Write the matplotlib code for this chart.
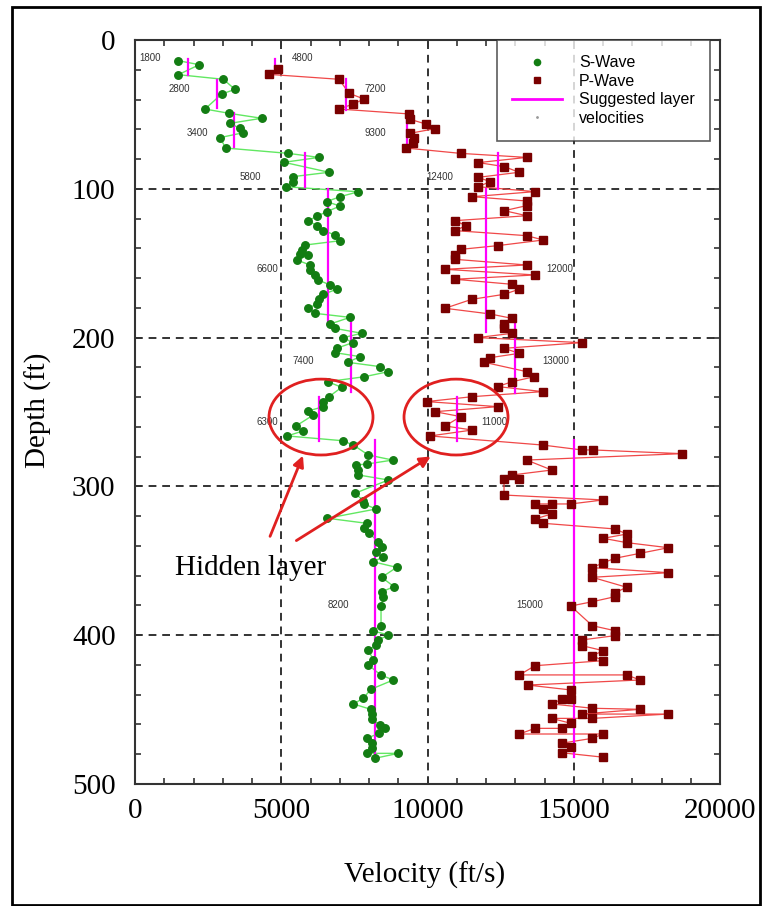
import matplotlib
matplotlib.use("Agg")
import matplotlib.pyplot as plt
from matplotlib.lines import Line2D
from matplotlib.patches import Ellipse, Rectangle
from matplotlib.ticker import MultipleLocator

# ---------------- data ----------------
s_vel = [1481, 2199, 1481, 3020, 3419, 2963, 2393, 3225, 4331, 3248, 3590, 3704, 2906, 3100,
         5243, 6291, 5094, 6632, 5413, 5390, 5163,
         7636, 7009, 6553, 7009, 6553, 6235, 5928, 6212, 6440, 6838, 7009, 5812, 5698, 5641,
         5928, 5527, 5983, 5983, 6154, 6269, 6667, 6895, 6440, 6303, 6212, 5928, 6154, 7351,
         6667, 6838, 7750, 7123, 7441, 6895, 6838, 7693, 7271, 8376, 8661, 7841, 6587, 7066,
         6633, 6440, 6440, 5928, 6098, 5504, 5732, 5208, 7099, 7464, 7977, 8810, 7920, 7555,
         7636, 7636, 8661, 7522, 7807, 7830, 8240, 6576, 7920, 7830, 8001, 8320, 8434, 8240,
         8468, 8126, 8947, 8434, 8855, 8434, 8490, 8411, 8411, 8126, 8661, 8320, 8240, 7977,
         8149, 7977, 8399, 8832, 8058, 7807, 7464, 8058, 8092, 8092, 8376, 8548, 8354, 7920,
         8092, 8092, 7920, 9003, 8206]
s_depth = [13.9, 16.6, 23.3, 26.4, 33.2, 36.3, 46.4, 49.3, 52.6, 56.0, 59.4, 62.3, 65.6, 72.6,
           76.2, 78.9, 82.2, 88.9, 91.8, 95.2, 98.6,
           102.0, 105.3, 108.6, 111.6, 115.4, 118.3, 121.4, 124.8, 128.1, 131.0, 134.9, 137.8, 141.1, 144.0,
           144.5, 147.8, 151.2, 154.6, 157.9, 161.3, 164.6, 167.5, 170.9, 174.3, 177.4, 180.3, 183.7, 186.4,
           190.9, 193.8, 197.1, 200.0, 203.4, 207.2, 210.1, 212.8, 216.6, 219.5, 222.9, 226.3, 229.6, 233.4,
           239.7, 243.0, 246.4, 249.3, 252.0, 259.4, 262.8, 266.1, 269.3, 272.2, 278.9, 282.3, 285.0, 285.6,
           289.0, 292.3, 295.7, 304.6, 309.6, 311.8, 315.2, 321.4, 324.8, 328.2, 331.5, 337.1, 340.5, 343.9,
           347.7, 350.6, 354.4, 361.1, 367.4, 370.8, 374.6, 380.4, 393.6, 397.0, 399.9, 403.2, 406.6, 410.0,
           416.7, 420.0, 426.7, 430.1, 436.4, 442.4, 446.2, 449.8, 453.0, 456.5, 460.3, 462.6, 465.9, 469.3,
           472.6, 476.0, 479.4, 479.4, 482.7]

p_vel = [4900, 4582, 6975, 7317, 7830, 7464, 6975, 9379, 9402, 9949, 10257, 9402, 9539, 9516, 9265,
         11135, 13391, 11737, 12627, 13129, 11737, 12137, 11737, 13675, 11532, 13391, 13391, 12627,
         13391, 10941, 11317, 10941, 13391, 13960, 12399, 11135, 10941, 10941, 13391, 10599, 13675,
         10941, 12901, 13129, 12627, 11509, 10599,
         12137, 12901, 12627, 12627, 12901, 11714, 15271, 12627, 13129, 12137, 11942, 13391, 13652,
         12901, 12399, 13937, 11532, 9972, 12399, 10257, 11135, 10599, 11532, 10086,
         13937, 15271, 15647, 18700, 13391, 14247, 12900, 13140, 12616, 12616,
         16012, 14897, 14247, 13676, 13960, 14247, 13676, 13960, 16412, 16811, 16012, 16811, 18234,
         17266, 16412, 16012, 15635, 18234, 15635, 16811, 16412, 16412, 15635, 14897, 15635, 16412,
         16412, 15271, 15271, 16012, 15635, 16012, 13676, 13140, 16811, 17266, 13425, 14897, 14897,
         14589, 14247, 15635, 17266, 15271, 18234, 15635, 14247, 14897, 14589, 13676, 13140, 16012,
         15635, 14589, 14897, 14589, 16012]
p_depth = [19.7, 23.1, 26.4, 35.8, 39.7, 43.0, 46.4, 49.7, 53.3, 56.5, 59.6, 62.7, 66.1, 69.0, 72.6,
           76.2, 78.9, 82.4, 85.1, 88.9, 92.3, 95.2, 98.6, 101.9, 105.3, 108.2, 111.3, 114.7,
           118.1, 121.4, 124.8, 128.1, 131.5, 134.4, 138.2, 140.7, 144.5, 147.4, 151.2, 154.1, 157.9,
           160.8, 164.2, 167.5, 170.9, 174.3, 180.3,
           184.1, 187.1, 190.9, 193.8, 197.1, 200.0, 203.4, 207.2, 210.6, 213.5, 216.6, 222.9, 226.3,
           229.6, 232.9, 236.3, 239.7, 243.0, 246.4, 249.8, 253.1, 259.4, 262.1, 266.1,
           272.2, 275.5, 275.5, 278.0, 282.3, 289.0, 292.3, 295.2, 295.2, 305.8,
           309.1, 311.8, 311.8, 311.8, 315.4, 318.5, 321.9, 324.8, 328.6, 332.0, 334.9, 337.8, 341.2,
           345.0, 348.3, 351.3, 354.6, 358.0, 361.1, 367.8, 371.4, 374.1, 377.5, 380.4, 393.6, 397.0,
           400.3, 403.2, 407.0, 410.4, 413.8, 417.1, 420.5, 426.7, 426.7, 430.1, 433.5, 436.8, 443.0,
           443.0, 446.2, 449.1, 449.8, 453.0, 453.0, 455.9, 455.9, 459.2, 462.6, 462.6, 466.4, 466.4,
           469.3, 472.6, 475.3, 479.0, 482.0]

# suggested layer velocities: value, top depth, bottom depth
s_layer_vel = [1800, 2800, 3400, 5800, 6600, 7400, 6300, 8200]
s_layer_top = [13, 27, 49, 76, 100, 187, 240, 269]
s_layer_bot = [23.5, 46, 72, 99, 190, 236.5, 269.5, 482]
p_layer_vel = [4800, 7200, 9300, 12400, 12000, 13000, 11000, 15000]
p_layer_top = [13, 26, 49, 76, 100, 187, 240, 269]
p_layer_bot = [22, 47, 72, 100, 196, 237, 269.5, 482]

# layer labels: text, x, depth
label_text = ["1800", "4800", "2800", "7200", "3400", "9300", "5800", "12400",
              "6600", "12000", "7400", "13000", "6300", "11000", "8200", "15000"]
label_x = [513, 5744, 1504, 8205, 2120, 8205, 3932, 10427,
           4513, 14530, 5744, 14393, 4513, 12273, 6940, 13504]
label_y = [12, 12, 33, 33, 62.5, 62.5, 92, 92,
           154, 154, 216, 216, 257, 257, 380, 380]

# ---------------- figure ----------------
W, H = 763, 906
fig = plt.figure(figsize=(W / 100, H / 100), dpi=100)
fig.patch.set_facecolor("white")
ax = fig.add_axes([135 / W, (H - 784) / H, 585 / W, 744 / H])

serif = "Liberation Serif"
sans = "Liberation Sans"

ax.set_xlim(0, 20000)
ax.set_ylim(500, 0)

# grid
for gx in [5000, 10000, 15000]:
    ax.axvline(gx, color="#333333", lw=1.4, ls=(0, (4, 3)), zorder=1)
for gy in [100, 200, 300, 400]:
    ax.axhline(gy, color="#333333", lw=1.4, ls=(0, (4, 3)), zorder=1)

# series
ax.plot(s_vel, s_depth, color="#62e862", lw=1.0, zorder=2)
ax.plot(s_vel, s_depth, ls="none", marker="o", ms=5.4, color="#137d13", zorder=4)
ax.plot(p_vel, p_depth, color="#f04848", lw=0.9, zorder=2)
ax.plot(p_vel, p_depth, ls="none", marker="s", ms=5.4, color="#7a0000", zorder=4)

for v, t, b in zip(s_layer_vel, s_layer_top, s_layer_bot):
    ax.plot([v, v], [t, b], color="#ff00ff", lw=1.6, zorder=3)
for v, t, b in zip(p_layer_vel, p_layer_top, p_layer_bot):
    ax.plot([v, v], [t, b], color="#ff00ff", lw=1.6, zorder=3)

for t, x, y in zip(label_text, label_x, label_y):
    ax.text(x, y, t, fontsize=7, family=sans, color="#333333", ha="center", va="center", zorder=5)

# annotations
for cx in [6359, 10975]:
    ax.add_patch(Ellipse((cx, 253.4), 3556, 51, fill=False, ec="#e02020", lw=2, zorder=6))
ax.annotate("", xy=(5778, 277.6), xytext=(4581, 335.3),
            arrowprops=dict(arrowstyle="-|>", color="#e02020", lw=2, mutation_scale=16), zorder=6)
ax.annotate("", xy=(10189, 278.9), xytext=(5436, 337.4),
            arrowprops=dict(arrowstyle="-|>", color="#e02020", lw=2, mutation_scale=16), zorder=6)
ax.text(3966, 355, "Hidden layer", family=serif, fontsize=21, ha="center", va="center", zorder=6)

# ticks
ax.xaxis.set_major_locator(MultipleLocator(5000))
ax.xaxis.set_minor_locator(MultipleLocator(1000))
ax.yaxis.set_major_locator(MultipleLocator(100))
ax.yaxis.set_minor_locator(MultipleLocator(20))
ax.tick_params(which="both", direction="in", top=True, right=True, color="#333333", width=1.2)
ax.tick_params(which="major", length=5)
ax.tick_params(which="minor", length=4)
ax.tick_params(axis="x", which="major", pad=10, labelsize=21)
ax.tick_params(axis="y", which="major", pad=14, labelsize=21)
for lab in ax.get_xticklabels() + ax.get_yticklabels():
    lab.set_family(serif)
for sp in ax.spines.values():
    sp.set_linewidth(1.5)
    sp.set_color("#333333")

fig.text(425 / W, 1 - 875 / H, "Velocity (ft/s)", family=serif, fontsize=21, ha="center", va="center")
fig.text(38 / W, 1 - 410 / H, "Depth (ft)", family=serif, fontsize=21, ha="center", va="center",
         rotation=90)

# legend
handles = [
    Line2D([], [], ls="none", marker="o", ms=4.5, color="#137d13"),
    Line2D([], [], ls="none", marker="s", ms=4.5, color="#7a0000"),
    Line2D([], [], color="#ff00ff", lw=2),
    Line2D([], [], ls="none", marker=".", ms=2, color="#999999"),
]
labels = ["S-Wave", "P-Wave", "Suggested layer", "velocities"]
leg = ax.legend(handles, labels, loc="upper right", bbox_to_anchor=((710 - 135) / 585, 1.0),
                prop={"family": sans, "size": 11.5}, frameon=True, fancybox=False,
                edgecolor="#333333", handlelength=3.1, handletextpad=1.1, labelspacing=0.22,
                borderpad=0.95, borderaxespad=0)
leg.get_frame().set_linewidth(1.2)
leg.set_zorder(10)

# outer frame
fig.add_artist(Rectangle((12 / W, 1 / H), (760 - 12) / W, (H - 7 - 1) / H, transform=fig.transFigure,
                         fill=False, ec="black", lw=2))

fig.savefig("out.png", dpi=100)
